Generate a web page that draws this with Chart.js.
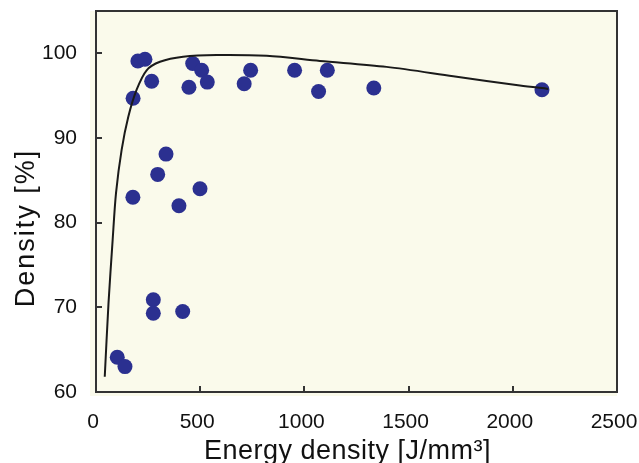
<!DOCTYPE html>
<html>
<head>
<meta charset="utf-8">
<script src="https://cdn.jsdelivr.net/npm/chart.js@4.4.1/dist/chart.umd.min.js"></script>
<style>
  html, body { margin: 0; padding: 0; background: #fff; }
  #wrap { width: 639px; height: 463px; }
</style>
</head>
<body>
<div id="wrap"><canvas id="chart"></canvas></div>
<script>
// measured samples: energy density [J/mm3] vs relative density [%]
const energy = [102, 139, 177, 178, 201, 235, 267, 275, 275, 296, 336, 398, 416,
  446, 464, 499, 507, 534, 711, 742, 953, 1068, 1110, 1333, 2140];
const density = [64.1, 63.0, 83.0, 94.7, 99.1, 99.3, 96.7, 70.9, 69.3, 85.7, 88.1, 82.0, 69.5,
  96.0, 98.8, 84.0, 98.0, 96.6, 96.4, 98.0, 98.0, 95.5, 98.0, 95.9, 95.7];

// fitted trend line
const curveEnergy = [42, 60, 80, 96, 123, 155, 195, 243, 307, 418, 579, 819, 1074, 1394, 1714, 2034, 2170];
const curveDensity = [61.8, 70.5, 78.0, 83.5, 88.6, 92.5, 95.7, 98.0, 99.0, 99.6, 99.8, 99.7, 99.1, 98.4, 97.3, 96.2, 95.8];

const xTicks = [0, 500, 1000, 1500, 2000, 2500];
const yTicks = [60, 70, 80, 90, 100];

const xTitle = 'Energy density [J/mm\u00b3]';
const yTitle = 'Density [%]';

const FONT = "'Liberation Sans', Arial, Helvetica, sans-serif";

function toPoints(xs, ys) {
  return xs.map((x, i) => ({ x, y: ys[i] }));
}

const frame = {
  id: 'frame',
  beforeDraw(chart) {
    const { ctx, chartArea: a } = chart;
    ctx.save();
    ctx.fillStyle = '#fafaeb';
    ctx.fillRect(a.left - 6, a.top, a.right - a.left + 6, a.bottom - a.top + 4);
    ctx.restore();
  },
  afterDraw(chart) {
    const { ctx, chartArea: a, scales } = chart;
    ctx.save();
    ctx.strokeStyle = '#333';
    ctx.lineWidth = 2;
    ctx.strokeRect(a.left, a.top, a.right - a.left, a.bottom - a.top);
    ctx.beginPath();
    xTicks.slice(1, -1).forEach((v) => {
      const px = Math.round(scales.x.getPixelForValue(v));
      ctx.moveTo(px, a.bottom);
      ctx.lineTo(px, a.bottom - 6);
    });
    yTicks.slice(1).forEach((v) => {
      const py = Math.round(scales.y.getPixelForValue(v));
      ctx.moveTo(a.left, py);
      ctx.lineTo(a.left + 6, py);
    });
    ctx.stroke();

    // axis titles
    ctx.fillStyle = '#111';
    ctx.font = `27px ${FONT}`;
    ctx.textAlign = 'center';
    ctx.textBaseline = 'alphabetic';
    ctx.letterSpacing = '0.5px';
    ctx.fillText(xTitle, (a.left + a.right) / 2 - 9, 459);
    ctx.letterSpacing = '2px';
    ctx.translate(34, 228);
    ctx.rotate(-Math.PI / 2);
    ctx.fillText(yTitle, 0, 0);
    ctx.restore();
  },
};

function noLabelPadding(scale) {
  scale.paddingTop = 0;
  scale.paddingBottom = 0;
  scale.paddingLeft = 0;
  scale.paddingRight = 0;
}

new Chart(document.getElementById('chart'), {
  type: 'scatter',
  data: {
    datasets: [{
      label: 'fit',
      data: toPoints(curveEnergy, curveDensity),
      showLine: true,
      borderColor: '#1a1a1a',
      borderWidth: 2,
      pointRadius: 0,
      tension: 0.3,
      fill: false,
    }, {
      label: 'measured',
      data: toPoints(energy, density),
      backgroundColor: '#2b3090',
      borderWidth: 0,
      pointRadius: 7.5,
    }],
  },
  options: {
    responsive: true,
    maintainAspectRatio: false,
    animation: false,
    layout: { padding: { top: 11, right: 22, left: 0, bottom: 0 } },
    plugins: {
      legend: { display: false },
      tooltip: { enabled: false },
    },
    scales: {
      x: {
        type: 'linear',
        min: 0,
        max: 2500,
        afterBuildTicks(scale) { scale.ticks = xTicks.map((value) => ({ value })); },
        afterFit(scale) { scale.height = 71; noLabelPadding(scale); },
        grid: { display: false },
        border: { display: false },
        ticks: {
          color: '#111',
          font: { family: FONT, size: 21 },
          padding: 10,
          labelOffset: -3,
          maxRotation: 0,
          callback: (v) => String(v),
        },
      },
      y: {
        type: 'linear',
        min: 60,
        max: 105,
        afterBuildTicks(scale) { scale.ticks = yTicks.map((value) => ({ value })); },
        afterFit(scale) { scale.width = 96; noLabelPadding(scale); },
        grid: { display: false },
        border: { display: false },
        ticks: {
          color: '#111',
          font: { family: FONT, size: 21 },
          padding: 11,
          callback: (v) => String(v),
        },
      },
    },
  },
  plugins: [frame],
});
</script>
</body>
</html>
